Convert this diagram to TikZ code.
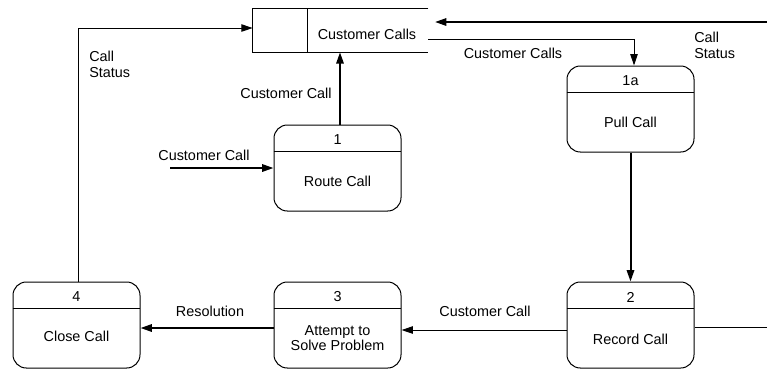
\documentclass[tikz,border=0pt]{standalone}
\usepackage{fontspec}
\setmainfont{Liberation Sans}
\usetikzlibrary{arrows.meta}
\begin{document}
\begin{tikzpicture}[x=0.75pt,y=-0.75pt,
  proc/.style={draw,line width=0.75pt,rounded corners=10pt,minimum width=95.25pt,minimum height=64.5pt,inner sep=0pt},
  lbl/.style={font=\fontsize{10.8}{11.6}\selectfont,align=center,inner sep=0pt},
  thinflow/.style={line width=0.75pt},
  flow/.style={line width=1.5pt},
  >={Triangle[length=8.5pt,width=5.5pt]}]
  \useasboundingbox (0,0) rectangle (767,369);
  % data store
  \node[minimum width=131.25pt,minimum height=32.25pt,inner sep=0pt] (store) at (340.5,30.5) {};
  \draw[thinflow] (store.north east) -- (store.north west) -- (store.south west) -- (store.south east);
  \draw[thinflow] (store.north west) ++(55,0) -- ++(0,43);
  \node[lbl] at (367,34) {Customer Calls};
  % processes
  \node[proc] (p1) at (337.5,168) {};
  \draw[thinflow] (p1.north west) ++(0,27) -- ++(127,0);
  \node[lbl] at (337.5,140) {1};
  \node[lbl] at (337.5,181) {Route Call};
  \node[proc] (p1a) at (630.5,109) {};
  \draw[thinflow] (p1a.north west) ++(0,27) -- ++(127,0);
  \node[lbl] at (630.5,81) {1a};
  \node[lbl] at (630.5,122) {Pull Call};
  \node[proc] (p2) at (630.5,325) {};
  \draw[thinflow] (p2.north west) ++(0,27) -- ++(127,0);
  \node[lbl] at (630.5,297) {2};
  \node[lbl] at (630.5,339) {Record Call};
  \node[proc] (p3) at (337.5,325) {};
  \draw[thinflow] (p3.north west) ++(0,27) -- ++(127,0);
  \node[lbl] at (337.5,297) {3};
  \node[lbl] at (337.5,338) {Attempt to\\Solve Problem};
  \node[proc] (p4) at (76.5,325) {};
  \draw[thinflow] (p4.north west) ++(0,27) -- ++(127,0);
  \node[lbl] at (76.5,297) {4};
  \node[lbl] at (76.5,336) {Close Call};
  % flows
  \coordinate (csext) at (767,22);
  \coordinate (csin) at (435,22);
  \draw[flow,->] (csext) -- (csin);
  \draw[thinflow,->] (store.east |- 0,39) -- (634,39) -- (p1a.north -| 634,0);
  \draw[flow,->] (p1a.south) -- (p2.north);
  \coordinate (rcext) at (767,327);
  \draw[thinflow] (rcext) -- (p2.east |- rcext);
  \draw[thinflow,->] (p2.west |- 0,330) -- (p3.east |- 0,330);
  \draw[flow,->] (p3.west |- 0,328) -- (p4.east |- 0,328);
  \draw[thinflow,->] (p4.north -| 78,0) -- (78,28) -- (store.west |- 0,28);
  \coordinate (ccext) at (170,168);
  \draw[flow,->] (ccext) -- (p1.west |- ccext);
  \draw[flow,->] (p1.north -| 340,0) -- (store.south -| 340,0);
  % labels
  \node[lbl,anchor=north west,align=left] at (89,51) {Call\\Status};
  \node[lbl] at (286,93) {Customer Call};
  \node[lbl] at (204,155) {Customer Call};
  \node[lbl] at (513,53) {Customer Calls};
  \node[lbl,anchor=north west,align=left] at (694,32) {Call\\Status};
  \node[lbl] at (485,311) {Customer Call};
  \node[lbl] at (210,311) {Resolution};
\end{tikzpicture}
\end{document}
